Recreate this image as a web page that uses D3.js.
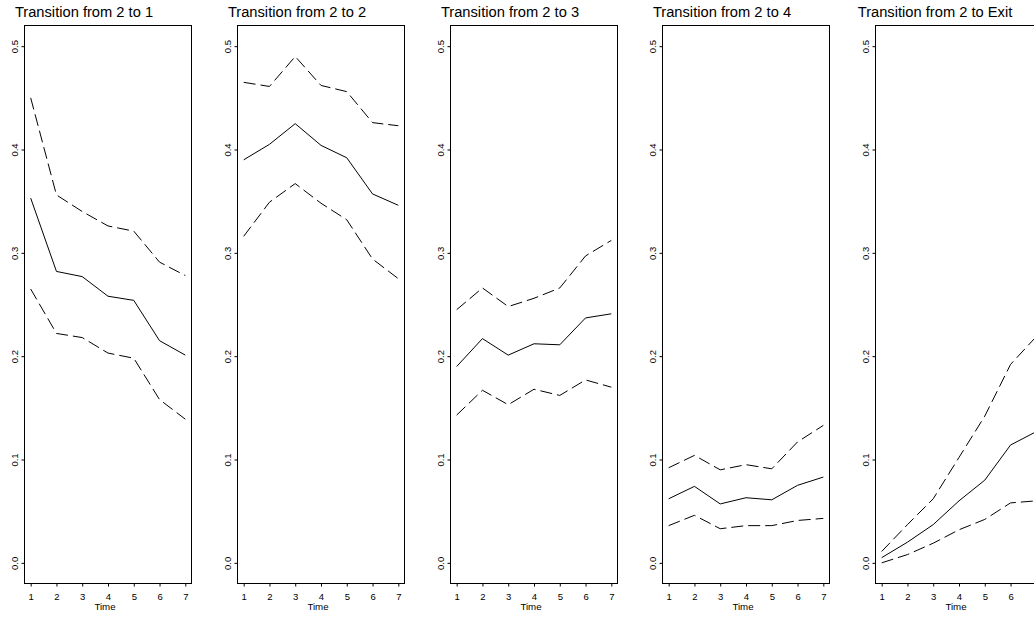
<!DOCTYPE html>
<html>
<head>
<meta charset="utf-8">
<script src="https://cdn.jsdelivr.net/npm/d3@7"></script>
<style>
  html, body { margin: 0; padding: 0; background: #fff; }
  svg { display: block; font-family: "Liberation Sans", Arial, Helvetica, sans-serif; }
</style>
</head>
<body>
<svg id="chart" width="1034" height="617"></svg>
<script>
// ---- data ----
const times = [1, 2, 3, 4, 5, 6, 7];
const titles = ["Transition from 2 to 1", "Transition from 2 to 2", "Transition from 2 to 3",
                "Transition from 2 to 4", "Transition from 2 to Exit"];
const yTicks = [0.0, 0.1, 0.2, 0.3, 0.4, 0.5];
const yTickLabels = ["0.0", "0.1", "0.2", "0.3", "0.4", "0.5"];
const xTickLabels = ["1", "2", "3", "4", "5", "6", "7"];
const xLabel = "Time";

const est1 = [0.353, 0.282, 0.277, 0.258, 0.254, 0.215, 0.201];
const lo1  = [0.265, 0.222, 0.218, 0.203, 0.198, 0.158, 0.139];
const up1  = [0.450, 0.356, 0.340, 0.326, 0.321, 0.291, 0.278];

const est2 = [0.390, 0.405, 0.425, 0.404, 0.392, 0.357, 0.346];
const lo2  = [0.316, 0.349, 0.367, 0.348, 0.332, 0.294, 0.275];
const up2  = [0.465, 0.461, 0.490, 0.462, 0.456, 0.426, 0.423];

const est3 = [0.190, 0.217, 0.201, 0.212, 0.211, 0.237, 0.241];
const lo3  = [0.143, 0.167, 0.153, 0.168, 0.162, 0.177, 0.170];
const up3  = [0.245, 0.266, 0.248, 0.256, 0.266, 0.297, 0.312];

const est4 = [0.062, 0.074, 0.057, 0.063, 0.061, 0.075, 0.083];
const lo4  = [0.036, 0.046, 0.033, 0.036, 0.036, 0.041, 0.043];
const up4  = [0.092, 0.104, 0.090, 0.095, 0.091, 0.117, 0.133];

const est5 = [0.005, 0.020, 0.037, 0.060, 0.080, 0.114, 0.127];
const lo5  = [0.000, 0.008, 0.019, 0.032, 0.042, 0.058, 0.060];
const up5  = [0.011, 0.037, 0.062, 0.102, 0.142, 0.192, 0.219];

const panels = [
  { title: titles[0], est: est1, lo: lo1, up: up1 },
  { title: titles[1], est: est2, lo: lo2, up: up2 },
  { title: titles[2], est: est3, lo: lo3, up: up3 },
  { title: titles[3], est: est4, lo: lo4, up: up4 },
  { title: titles[4], est: est5, lo: lo5, up: up5 }
];

// ---- layout ----
const svg = d3.select("#chart");
const firstLeft = 24, step = 212.75, pw = 167, plotTop = 25, plotBottom = 583;
const dash = "12,5";

panels.forEach((p, i) => {
  const left = Math.round(firstLeft + i * step) + 0.5;
  const right = left + pw;
  const x = d3.scaleLinear().domain([1 - 0.24, 7 + 0.24]).range([left, right]);
  const y = d3.scaleLinear().domain([-0.02, 0.52]).range([plotBottom + 0.5, plotTop + 0.5]);
  const g = svg.append("g");

  // lines
  const line = d3.line().x((d, k) => x(times[k])).y(d => y(d));
  g.append("path").datum(p.up).attr("d", line).attr("fill", "none")
    .attr("stroke", "#000").attr("stroke-width", 1).attr("stroke-dasharray", dash);
  g.append("path").datum(p.lo).attr("d", line).attr("fill", "none")
    .attr("stroke", "#000").attr("stroke-width", 1).attr("stroke-dasharray", dash);
  g.append("path").datum(p.est).attr("d", line).attr("fill", "none")
    .attr("stroke", "#000").attr("stroke-width", 1);

  // box
  g.append("rect").attr("x", left).attr("y", plotTop + 0.5)
    .attr("width", pw).attr("height", plotBottom - plotTop)
    .attr("fill", "none").attr("stroke", "#000").attr("stroke-width", 1);

  // y axis
  const ya = d3.axisLeft(y).tickValues(yTicks).tickSize(3).tickFormat((d, k) => yTickLabels[k]);
  const yg = g.append("g").attr("transform", `translate(${left},0)`).call(ya);
  yg.select(".domain").remove();
  yg.selectAll(".tick line").attr("stroke", "#000");
  yg.selectAll(".tick text")
    .attr("x", 0).attr("dy", 0)
    .attr("transform", "translate(-7,0) rotate(-90)")
    .attr("text-anchor", "middle")
    .attr("font-size", "9.5px").attr("fill", "#000")
    .attr("font-family", "Liberation Sans, Arial, sans-serif");

  // x axis
  const xa = d3.axisBottom(x).tickValues(times).tickSize(3).tickFormat((d, k) => xTickLabels[k]);
  const xg = g.append("g").attr("transform", `translate(0,${plotBottom + 0.5})`).call(xa);
  xg.select(".domain").remove();
  xg.selectAll(".tick line").attr("stroke", "#000");
  xg.selectAll(".tick text")
    .attr("y", 16).attr("dy", 0)
    .attr("font-size", "9.5px").attr("fill", "#000")
    .attr("font-family", "Liberation Sans, Arial, sans-serif");

  // x label
  g.append("text").attr("x", (left + right) / 2 - 3).attr("y", 610)
    .attr("text-anchor", "middle").attr("font-size", "9.7px").attr("fill", "#000")
    .text(xLabel);

  // title
  g.append("text").attr("x", (left + right) / 2 - 24).attr("y", 17)
    .attr("text-anchor", "middle").attr("font-size", "14.7px").attr("fill", "#000")
    .text(p.title);
});
</script>
</body>
</html>
